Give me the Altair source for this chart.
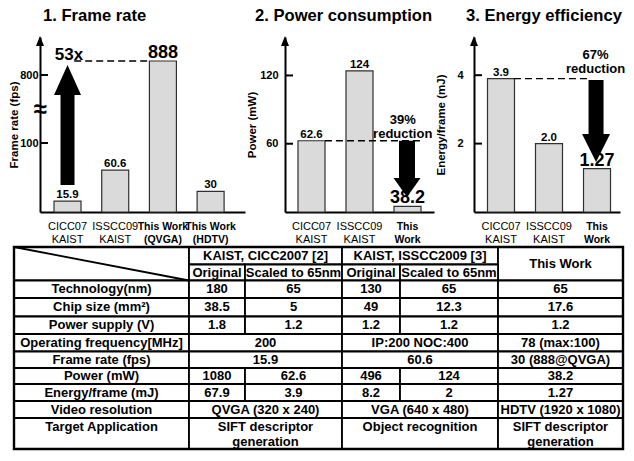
import altair as alt
import pandas as pd

FONT = "Liberation Sans"

# ---------------- data ----------------
# 1. Frame rate
fr_cats = ["CICC07\nKAIST", "ISSCC09\nKAIST", "This Work\n(QVGA)", "This Work\n(HDTV)"]
fr_bold = [False, False, True, True]
fr_values = [15.9, 60.6, 888, 30]
fr_labels = ["15.9", "60.6", "888", "30"]
fr_big = [False, False, True, False]
fr_ticks = [100, 800]

# 2. Power consumption
pw_cats = ["CICC07\nKAIST", "ISSCC09\nKAIST", "This\nWork"]
pw_bold = [False, False, True]
pw_values = [62.6, 124, 38.2]
pw_bar_drawn = [62.6, 124, 5]        # bar heights as drawn in the figure
pw_labels = ["62.6", "124", "38.2"]
pw_big = [False, False, True]
pw_ticks = [60, 120]

# 3. Energy efficiency
en_cats = ["CICC07\nKAIST", "ISSCC09\nKAIST", "This\nWork"]
en_bold = [False, False, True]
en_values = [3.9, 2.0, 1.27]
en_labels = ["3.9", "2.0", "1.27"]
en_big = [False, False, True]
en_ticks = [2, 4]

# annotations (data space of each panel)
fr_dash = [(0.14, 1.71, 888)]
fr_shaft = [(0, 39, 594, 14)]
fr_head = [(0, 748, "M0,-1.11L1,1.11L-1,1.11Z", 729)]
fr_note = [(0.03, 926, "53x", 17)]
fr_break = [(-0.577, 440, "≈", 24)]

pw_dash = [(0.28, 2.26, 62.6)]
pw_shaft = [(1.99, 62.6, 29.9, 16)]
pw_head = [(1.99, 21.5, "M-1,-0.7L1,-0.7L0,0.7Z", 729)]
pw_note = [(1.9, 80.8, "39%\nreduction", 13)]

en_dash = [(0.27, 1.85, 3.9)]
en_shaft = [(1.98, 3.86, 2.28, 15)]
en_head = [(1.98, 1.87, "M-1,-1L1,-1L0,1Z", 784)]
en_note = [(1.97, 4.59, "67%\nreduction", 13)]

# table
hdr_groups = ["KAIST, CICC2007 [2]", "KAIST, ISSCC2009 [3]", "This Work"]
hdr_sub = ["Original", "Scaled to 65nm", "Original", "Scaled to 65nm"]
row_labels = ["Technology(nm)", "Chip size (mm²)", "Power supply (V)",
              "Operating frequency[MHz]", "Frame rate (fps)", "Power (mW)",
              "Energy/frame (mJ)", "Video resolution", "Target Application"]
row_cells = [
    ["180", "65", "130", "65", "65"],
    ["38.5", "5", "49", "12.3", "17.6"],
    ["1.8", "1.2", "1.2", "1.2", "1.2"],
    ["200", "IP:200 NOC:400", "78 (max:100)"],
    ["15.9", "60.6", "30 (888@QVGA)"],
    ["1080", "62.6", "496", "124", "38.2"],
    ["67.9", "3.9", "8.2", "2", "1.27"],
    ["QVGA (320 x 240)", "VGA (640 x 480)", "HDTV (1920 x 1080)"],
    ["SIFT descriptor\ngeneration", "Object recognition", "SIFT descriptor\ngeneration"],
]

# layout sizes of the table (columns / rows)
col_w = [175, 56, 97, 58, 98, 125]
row_h = [17.5, 16, 17.5, 18.5, 17.5, 17.5, 16.5, 16, 17, 17, 31]

PH = 175  # panel plot height
GAP = 40  # horizontal gap between panels


def panel(cats, bold, heights, labels, big, ticks, yscale, xdom, width,
          title, title_dx, ytitle, label_pad, title_pad,
          dash, shaft, head, note, brk=None):
    xs = alt.Scale(domain=xdom, nice=False, zero=False, padding=0)
    xax = alt.Axis(labels=False, ticks=False, title=None, grid=False,
                   domainColor="black", domainWidth=2)
    yax = alt.Axis(values=ticks, title=ytitle, ticks=False, tickSize=0, grid=False,
                   labelPadding=label_pad, titlePadding=title_pad,
                   domainColor="black", domainWidth=2,
                   labelFont=FONT, labelFontSize=11, labelFontWeight="bold",
                   labelColor="black",
                   titleFont=FONT, titleFontSize=11.5, titleFontWeight="bold",
                   titleColor="black")

    def X(f):
        return alt.X(f, type="quantitative", scale=xs, axis=xax)

    def Y(f):
        return alt.Y(f, type="quantitative", scale=yscale, axis=yax)

    df = pd.DataFrame({"i": list(range(len(cats))), "h": heights, "lab": labels,
                       "cat": cats, "bold": bold, "big": big})
    base = alt.Chart(df)
    bars = base.mark_bar(size=27, fill="#dadada", stroke="#303030",
                         strokeWidth=1.2).encode(x=X("i"), y=Y("h"))
    lab_s = base.transform_filter("!datum.big").mark_text(
        font=FONT, fontSize=11.5, fontWeight="bold", baseline="alphabetic", dy=-3,
        color="black").encode(x=X("i"), y=Y("h"), text="lab:N")
    lab_b = base.transform_filter("datum.big").mark_text(
        font=FONT, fontSize=18, fontWeight="bold", baseline="alphabetic", dy=-3,
        color="black").encode(x=X("i"), y=Y("h"), text="lab:N")
    cat_n = base.transform_filter("!datum.bold").mark_text(
        font=FONT, fontSize=11, lineBreak="\n", lineHeight=12.5, baseline="middle",
        color="black").encode(x=X("i"), y=alt.value(PH + 15), text="cat:N")
    cat_b = base.transform_filter("datum.bold").mark_text(
        font=FONT, fontSize=10.5, fontWeight="bold", lineBreak="\n", lineHeight=12.5,
        baseline="middle", color="black").encode(x=X("i"), y=alt.value(PH + 15),
                                                 text="cat:N")

    tdf = pd.DataFrame({"h": ticks, "i": [xdom[0]] * len(ticks)})
    tk = alt.Chart(tdf).mark_rule(color="black", strokeWidth=2).encode(
        y=Y("h"), x=X("i"), x2=alt.value(8))
    ah = alt.Chart(pd.DataFrame({"i": [xdom[0]]})).mark_point(
        shape="M0,-1L0.8,1L-0.8,1Z", size=100, filled=True, color="black",
        opacity=1, strokeWidth=0).encode(x=X("i"), y=alt.value(4))

    layers = [bars, tk, ah, lab_s, lab_b, cat_n, cat_b]

    ddf = pd.DataFrame(dash, columns=["i", "i2", "h"])
    layers.append(alt.Chart(ddf).mark_rule(color="black", strokeWidth=1.3,
                                           strokeDash=[7, 4]).encode(
        x=X("i"), x2="i2:Q", y=Y("h")))
    for (xi, y1, y2, w) in shaft:
        sdf = pd.DataFrame({"i": [xi], "h": [y1], "h2": [y2]})
        layers.append(alt.Chart(sdf).mark_rule(color="black", strokeWidth=w).encode(
            x=X("i"), y=Y("h"), y2="h2:Q"))
    for (xi, yc, path, s) in head:
        hdf = pd.DataFrame({"i": [xi], "h": [yc]})
        layers.append(alt.Chart(hdf).mark_point(
            shape=path, size=s, filled=True, color="black", opacity=1,
            strokeWidth=0).encode(x=X("i"), y=Y("h")))
    for (xi, yc, txt, fs) in note + (brk or []):
        ndf = pd.DataFrame({"i": [xi], "h": [yc], "t": [txt]})
        layers.append(alt.Chart(ndf).mark_text(
            font=FONT, fontSize=fs, fontWeight="bold", lineBreak="\n",
            lineHeight=14, baseline="middle", color="black").encode(
            x=X("i"), y=Y("h"), text="t:N"))

    return alt.layer(*layers).properties(
        width=width, height=PH,
        title=alt.TitleParams(title, anchor="start", frame="group", dx=title_dx,
                              font=FONT, fontSize=16.6, fontWeight="bold",
                              color="black", baseline="alphabetic", offset=-2))


p1 = panel(fr_cats, fr_bold, fr_values, fr_labels, fr_big, fr_ticks,
           alt.Scale(domain=[0, 100, 800, 1039], range=[PH, 106, 38, 0],
                     nice=False, zero=False),
           [-0.577, 3.721], 205, "1. Frame rate", 3, "Frame rate (fps)", 2, 0,
           fr_dash, fr_shaft, fr_head, fr_note, fr_break)
p2 = panel(pw_cats, pw_bold, pw_bar_drawn, pw_labels, pw_big, pw_ticks,
           alt.Scale(domain=[0, 153.8], nice=False, zero=False),
           [-0.552, 2.552], 149, "2. Power consumption", -30, "Power (mW)", 7, 2,
           pw_dash, pw_shaft, pw_head, pw_note)
p3 = panel(en_cats, en_bold, en_values, en_labels, en_big, en_ticks,
           alt.Scale(domain=[0, 5.117], nice=False, zero=False),
           [-0.5625, 2.479], 146, "3. Energy efficiency", -8, "Energy/frame (mJ)", 11, 10,
           en_dash, en_shaft, en_head, en_note)

# ---------------- table ----------------
cx = [0]
for w in col_w:
    cx.append(cx[-1] + w)
ry = [0]
for h in row_h:
    ry.append(ry[-1] + h)

cells = []


def add(c0, c1, r0, r1, text):
    x0, x1, y0, y1 = cx[c0], cx[c1], ry[r0], ry[r1]
    tall = (y1 - y0) > 25 and (r1 - r0) == 1
    # text starts at the top line in the tall last row, otherwise centred
    yc = y0 + 9 if tall else (y0 + y1) / 2
    cells.append(dict(x0=x0, x1=x1, y0=y0, y1=y1, xc=(x0 + x1) / 2, yc=yc, text=text))


add(0, 1, 0, 2, "")
add(1, 3, 0, 1, hdr_groups[0])
add(3, 5, 0, 1, hdr_groups[1])
add(5, 6, 0, 2, hdr_groups[2])
for k, t in enumerate(hdr_sub):
    add(1 + k, 2 + k, 1, 2, t)
for r, (lab, vals) in enumerate(zip(row_labels, row_cells)):
    rr = r + 2
    add(0, 1, rr, rr + 1, lab)
    if len(vals) == 5:
        for k, v in enumerate(vals):
            add(1 + k, 2 + k, rr, rr + 1, v)
    else:
        add(1, 3, rr, rr + 1, vals[0])
        add(3, 5, rr, rr + 1, vals[1])
        add(5, 6, rr, rr + 1, vals[2])

TW = 583  # table plot width (from the first panel's axis to the table's right edge)
tx = alt.Scale(domain=[cx[-1] - TW, cx[-1]], nice=False, zero=False, padding=0)
ty = alt.Scale(domain=[0, ry[-1]], reverse=True, nice=False, zero=False, padding=0)
cdf = pd.DataFrame(cells)
tb = alt.Chart(cdf)
rects = tb.mark_rect(fill="white", stroke="black", strokeWidth=1.8).encode(
    x=alt.X("x0:Q", scale=tx, axis=None), x2="x1:Q",
    y=alt.Y("y0:Q", scale=ty, axis=None), y2="y1:Q")
texts = tb.transform_filter("datum.text != ''").mark_text(
    font=FONT, fontSize=13, fontWeight="bold", lineBreak="\n", lineHeight=15,
    baseline="middle", color="black").encode(
    x=alt.X("xc:Q", scale=tx, axis=None), y=alt.Y("yc:Q", scale=ty, axis=None),
    text="text:N")
diag = alt.Chart(pd.DataFrame({"x0": [cx[0]], "x1": [cx[1]], "y0": [ry[0]],
                               "y1": [ry[2]]})).mark_rule(
    color="black", strokeWidth=1.8).encode(
    x=alt.X("x0:Q", scale=tx, axis=None), x2="x1:Q",
    y=alt.Y("y0:Q", scale=ty, axis=None), y2="y1:Q")
outer = alt.Chart(pd.DataFrame({"x0": [cx[0]], "x1": [cx[-1]], "y0": [ry[0]],
                                "y1": [ry[-1]]})).mark_rect(
    fill="white", fillOpacity=0, stroke="black", strokeWidth=2.4).encode(
    x=alt.X("x0:Q", scale=tx, axis=None), x2="x1:Q",
    y=alt.Y("y0:Q", scale=ty, axis=None), y2="y1:Q")

table = alt.layer(rects, diag, texts, outer).properties(width=TW, height=ry[-1])

top = alt.hconcat(p1, p2, p3, spacing=GAP, bounds="flush")
# with flush bounds the nested row counts as zero height, so the spacing
# spans the panel height plus the gap to the table
chart = alt.vconcat(top, table, spacing=PH + 35, bounds="flush").properties(
    padding=0).configure_view(stroke=None)

chart.save("out.html", embed_options={"renderer": "svg", "actions": False})
